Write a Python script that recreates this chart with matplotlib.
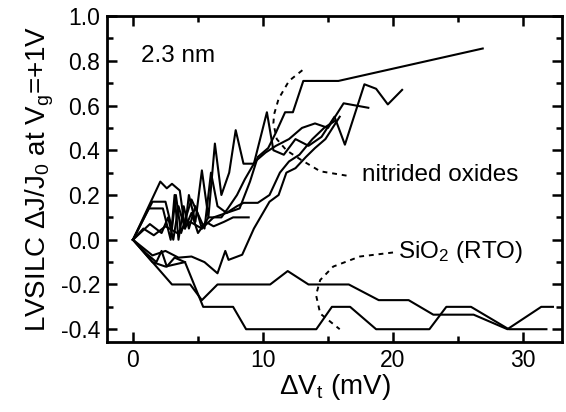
import matplotlib
matplotlib.use("Agg")
import matplotlib.pyplot as plt
from matplotlib.ticker import MultipleLocator

plt.rcParams['font.family'] = ['Liberation Sans', 'DejaVu Sans']
plt.rcParams['mathtext.fontset'] = 'custom'
plt.rcParams['mathtext.rm'] = 'Liberation Sans'
plt.rcParams['mathtext.it'] = 'Liberation Sans'
plt.rcParams['mathtext.default'] = 'rm'

# ---- data ----
# nitrided oxides
n1_x = [0, 0.8, 1.6, 2.5, 3.4, 4.4, 5.3, 6.2, 7.2, 8.2, 9.0, 9.6, 10.4, 11.0, 11.7, 12.3, 13.1, 15.8, 26.9]
n1_y = [0, 0.05, 0.02, 0.06, 0.03, 0.08, 0.05, 0.10, 0.12, 0.14, 0.26, 0.37, 0.41, 0.48, 0.57, 0.57, 0.71, 0.71, 0.855]

n2_x = [0, 2.1, 2.6, 3.0, 3.6, 4.0, 4.3, 4.8, 5.3, 5.8, 6.3, 6.8, 7.4, 7.9, 8.5, 9.3, 10.3, 10.8, 11.6,
        12.5, 13.5, 14.5, 15.5, 16.3, 17.8, 18.7, 19.6, 20.7]
n2_y = [0, 0.26, 0.23, 0.25, 0.22, 0.05, 0.20, 0.08, 0.31, 0.10, 0.43, 0.20, 0.30, 0.49, 0.34, 0.34, 0.57, 0.40, 0.38,
        0.45, 0.42, 0.46, 0.55, 0.425, 0.695, 0.675, 0.605, 0.67]

n3_x = [0, 1.2, 2.3, 2.9, 3.2, 3.5, 3.9, 4.3, 4.8, 5.3, 5.8, 6.8, 7.3, 8.0, 8.6, 9.4, 10.2, 11.0, 12.0,
        13.0, 14.0, 15.0, 16.2, 18.1]
n3_y = [0, 0.14, 0.14, 0.0, 0.20, 0.0, 0.15, 0.05, 0.15, 0.05, 0.10, 0.10, 0.14, 0.20, 0.27, 0.35, 0.39, 0.42, 0.45,
        0.50, 0.52, 0.50, 0.61, 0.59]

n4_x = [0, 1.5, 2.5, 3.5, 4.5, 5.5, 6.5, 7.1, 7.35, 8.4, 9.3, 10.0, 10.5, 11.2, 11.8, 12.5, 13.3, 14.0, 14.8, 15.9]
n4_y = [0, -0.07, -0.05, -0.08, -0.075, -0.10, -0.15, -0.05, -0.09, -0.067, 0.05, 0.12, 0.17, 0.20, 0.30, 0.32,
        0.37, 0.41, 0.45, 0.55]

n5_x = [0, 1.3, 2.2, 2.7, 3.1, 3.5, 4.0, 4.5, 5.0, 5.6, 6.2, 7.0, 7.7, 8.9]
n5_y = [0, 0.07, 0.03, 0.10, 0.0, 0.15, 0.05, 0.12, 0.03, 0.08, 0.06, 0.08, 0.10, 0.10]

n6_x = [0, 1.5, 2.5, 3.0, 3.3, 3.7, 4.5, 5.5, 6.0, 6.5, 7.2, 8.0, 8.5, 9.6, 10.5, 11.3, 12.0, 12.8, 13.8, 14.7, 15.5]
n6_y = [0, 0.17, 0.17, 0.05, 0.20, 0.03, 0.18, 0.05, 0.30, 0.15, 0.12, 0.15, 0.165, 0.165, 0.20, 0.30, 0.35,
        0.38, 0.45, 0.50, 0.53]

n7_x = [0, 1.0, 1.8, 2.2, 2.6, 3.2, 4.0]
n7_y = [0, -0.06, -0.10, -0.05, -0.12, -0.08, -0.10]

# SiO2 (RTO)
s1_x = [0, 3.0, 4.4, 5.3, 6.5, 10.55, 11.9, 13.5, 16.6, 18.9, 21.2, 23.1, 26.2, 28.8, 31.4, 32.3]
s1_y = [0, -0.20, -0.20, -0.27, -0.20, -0.20, -0.14, -0.20, -0.20, -0.27, -0.27, -0.335, -0.335, -0.40, -0.30, -0.30]

s2_x = [0, 1.5, 2.5, 4.0, 5.4, 7.7, 8.7, 14.1, 15.3, 16.7, 18.7, 22.8, 24.1, 26.0, 28.9, 31.8]
s2_y = [0, -0.10, -0.12, -0.10, -0.30, -0.30, -0.40, -0.40, -0.30, -0.30, -0.40, -0.40, -0.30, -0.30, -0.40, -0.40]

# dashed annotation curves
d1_x = [13.03, 12.0, 11.2, 10.85, 10.8, 11.06, 11.8, 12.85, 14.4, 16.7]
d1_y = [0.758, 0.71, 0.63, 0.56, 0.52, 0.45, 0.40, 0.36, 0.306, 0.284]
d2_x = [20.0, 17.45, 15.4, 14.4, 14.08, 14.4, 15.9]
d2_y = [-0.057, -0.075, -0.12, -0.18, -0.247, -0.33, -0.40]

nitrided = [(n1_x, n1_y), (n2_x, n2_y), (n3_x, n3_y), (n4_x, n4_y), (n5_x, n5_y), (n6_x, n6_y), (n7_x, n7_y)]
sio2 = [(s1_x, s1_y), (s2_x, s2_y)]

fig = plt.figure(figsize=(5.66, 4.12), dpi=100)
ax = fig.add_axes([0.189, 0.170, 0.804, 0.791])

for xs, ys in nitrided + sio2:
    ax.plot(xs, ys, color='black', lw=1.5)

ax.plot(d1_x, d1_y, color='black', lw=1.4, ls=(0, (2.5, 2.5)))
ax.plot(d2_x, d2_y, color='black', lw=1.4, ls=(0, (2.5, 2.5)))

ax.text(0.6, 0.82, '2.3 nm', fontsize=17.5, va='center', ha='left')
ax.text(17.6, 0.29, 'nitrided oxides', fontsize=17.5, va='center', ha='left')
ax.text(20.4, -0.055, 'SiO$_2$ (RTO)', fontsize=17.5, va='center', ha='left')

ax.set_xlim(-2, 33)
ax.set_ylim(-0.457, 1.0)
ax.xaxis.set_major_locator(MultipleLocator(10))
ax.xaxis.set_minor_locator(MultipleLocator(5))
ax.yaxis.set_major_locator(MultipleLocator(0.2))
ax.yaxis.set_minor_locator(MultipleLocator(0.1))
ax.yaxis.set_major_formatter(plt.FuncFormatter(lambda v, p: f'{v:.1f}'))
ax.tick_params(which='both', direction='in', top=True, right=True, width=1.8, labelsize=16.5, pad=5)
ax.tick_params(which='major', length=7)
ax.tick_params(which='minor', length=4)
for s in ax.spines.values():
    s.set_linewidth(2.0)

ax.set_xlabel('ΔV$_t$ (mV)', fontsize=20, labelpad=0)
ax.set_ylabel('LVSILC ΔJ/J$_0$ at V$_g$=+1V', fontsize=20, labelpad=3)

fig.savefig('out.png', dpi=100)
